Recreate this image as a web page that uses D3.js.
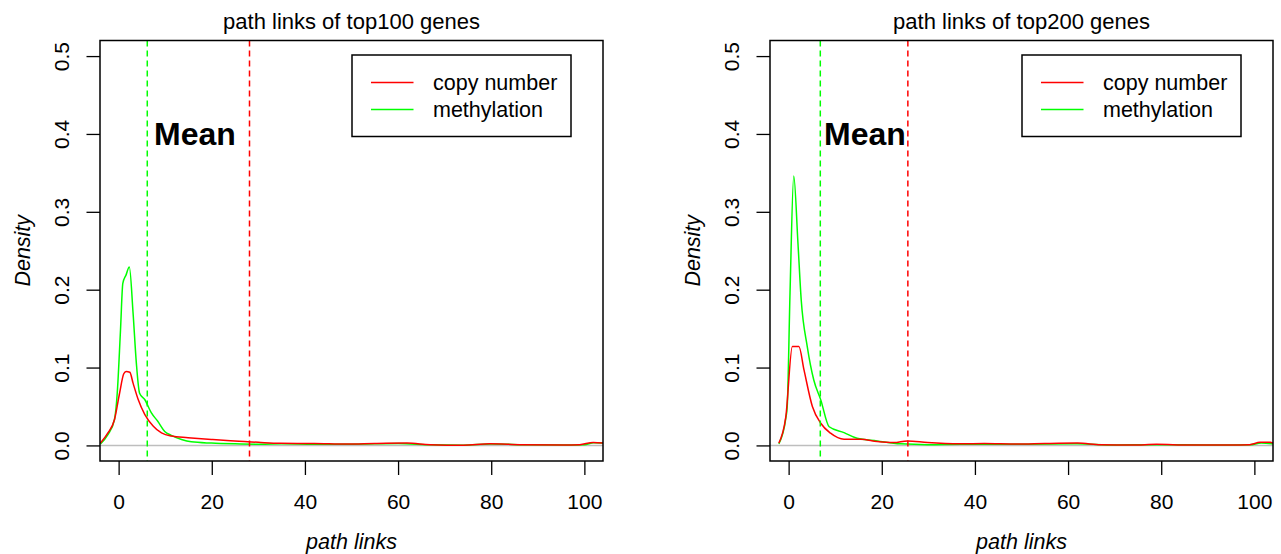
<!DOCTYPE html>
<html>
<head>
<meta charset="utf-8">
<script src="https://cdn.jsdelivr.net/npm/d3@7"></script>
<style>
  body { margin: 0; background: #fff; }
  svg { display: block; font-family: "Liberation Sans", Arial, Helvetica, sans-serif; }
  .tick text { font-size: 21px; fill: #000; }
  .tick line { stroke: #000; stroke-width: 1.3; }
</style>
</head>
<body>
<svg id="chart" width="1281" height="554"></svg>
<script>
var panelTitles = ["path links of top100 genes", "path links of top200 genes"];
var seriesNames = ["copy number", "methylation"];
var seriesColors = ["#ff0000", "#00ff00"];
var xTicks = [0, 20, 40, 60, 80, 100];
var yTicks = [0, 0.1, 0.2, 0.3, 0.4, 0.5];
var meanCopy = [28.1, 25.6];
var meanMeth = [6.15, 6.8];

// top100: copy number
var top100CopyX = [-3.9, -2.3, -0.9, 0.2, 1.1, 1.6, 2.4, 3.1, 4.2, 5.6, 7.4, 9.2, 11.3, 14.9, 19.9, 24, 27, 30, 34.7, 42, 49, 55, 61.9, 66.9, 74, 79.7, 86.2, 95.4, 99, 101.9, 104];
var top100CopyY = [0.003, 0.016, 0.033, 0.067, 0.092, 0.095, 0.094, 0.080, 0.059, 0.040, 0.025, 0.016, 0.012, 0.010, 0.0077, 0.006, 0.005, 0.004, 0.0027, 0.0025, 0.0017, 0.0025, 0.003, 0.001, 0.0003, 0.002, 0.001, 0.0005, 0.001, 0.0038, 0.003];
// top100: methylation
var top100MethX = [-3.9, -2.3, -0.9, -0.3, 0.4, 0.9, 1.6, 2.3, 3.1, 3.8, 4.5, 5.6, 7.0, 8.4, 9.9, 11.3, 13.5, 15.6, 19.9, 25, 30.5, 35, 42, 50, 60, 67, 74, 80, 88, 96, 100, 102, 104];
var top100MethY = [0.002, 0.014, 0.033, 0.067, 0.148, 0.208, 0.219, 0.229, 0.170, 0.106, 0.067, 0.059, 0.042, 0.031, 0.018, 0.013, 0.0077, 0.0047, 0.003, 0.002, 0.0015, 0.002, 0.0015, 0.0015, 0.0025, 0.0008, 0.0003, 0.0018, 0.0008, 0.0005, 0.0008, 0.0035, 0.003];
// top200: copy number
var top200CopyX = [-2.1, -0.6, 0.8, 2.2, 3.3, 5.1, 6.9, 9.0, 11.9, 15.5, 19, 22.6, 25.5, 29.8, 37, 42, 49, 55, 62, 67, 74, 79, 86, 95, 99, 101.2, 103.4, 104];
var top200CopyY = [0.003, 0.037, 0.127, 0.127, 0.097, 0.050, 0.0285, 0.0157, 0.008, 0.008, 0.005, 0.0036, 0.0058, 0.0036, 0.002, 0.0025, 0.0018, 0.0025, 0.003, 0.001, 0.0005, 0.0015, 0.0005, 0.0005, 0.001, 0.004, 0.0042, 0.003];
// top200: methylation
var top200MethX = [-2.1, -0.6, -0.3, 0.3, 1.1, 2.0, 2.7, 4.0, 5.4, 6.9, 8.7, 11.9, 14.7, 19, 24, 29.8, 37, 50, 62, 70, 80, 90, 99, 101.5, 104];
var top200MethY = [0.002, 0.035, 0.05, 0.196, 0.346, 0.26, 0.187, 0.127, 0.084, 0.0585, 0.024, 0.0165, 0.0092, 0.0058, 0.002, 0.001, 0.0015, 0.0015, 0.002, 0.0005, 0.001, 0.0005, 0.0008, 0.003, 0.002];

var copyX = [top100CopyX, top200CopyX], copyY = [top100CopyY, top200CopyY];
var methX = [top100MethX, top200MethX], methY = [top100MethY, top200MethY];

var panelLeft = [100, 770];
var plotW = 503, plotTop = 40.5, plotH = 420.5;

var svg = d3.select("#chart");

function zip(xs, ys) {
  return xs.map(function(x, i) { return [x, ys[i]]; });
}

panelTitles.forEach(function(title, p) {
  var x = d3.scaleLinear().domain([-4, 104]).range([0, plotW]);
  var y = d3.scaleLinear().domain([-0.02, 0.52]).range([plotH, 0]);

  var g = svg.append("g")
      .attr("transform", `translate(${panelLeft[p]}, ${plotTop})`);

  // baseline at zero
  g.append("line")
      .attr("x1", 0).attr("x2", plotW)
      .attr("y1", y(0)).attr("y2", y(0))
      .attr("stroke", "#bebebe").attr("stroke-width", 1.5);

  var line = d3.line()
      .x(function(d) { return x(d[0]); })
      .y(function(d) { return y(d[1]); })
      .curve(d3.curveMonotoneX);

  g.append("path")
      .attr("d", line(zip(methX[p], methY[p])))
      .attr("fill", "none").attr("stroke", seriesColors[1]).attr("stroke-width", 1.5);
  g.append("path")
      .attr("d", line(zip(copyX[p], copyY[p])))
      .attr("fill", "none").attr("stroke", seriesColors[0]).attr("stroke-width", 1.5);

  // mean lines
  [[meanCopy[p], seriesColors[0]], [meanMeth[p], seriesColors[1]]].forEach(function(m) {
    g.append("line")
        .attr("x1", x(m[0])).attr("x2", x(m[0]))
        .attr("y1", 0).attr("y2", plotH)
        .attr("stroke", m[1]).attr("stroke-width", 1.5)
        .attr("stroke-dasharray", "6,4");
  });

  g.append("text")
      .attr("x", x(16.4)).attr("y", y(0.4))
      .attr("dy", "0.36em")
      .attr("text-anchor", "middle")
      .style("font-size", "32px").style("font-weight", "bold")
      .text("Mean");

  // axes
  var xAxis = g.append("g")
      .attr("transform", `translate(0, ${plotH})`)
      .call(d3.axisBottom(x).tickValues(xTicks).tickSize(14).tickPadding(19).tickFormat(d3.format("d")));
  xAxis.select(".domain").remove();
  xAxis.selectAll("text").attr("font-family", null).attr("font-size", null);

  var yAxis = g.append("g")
      .call(d3.axisLeft(y).tickValues(yTicks).tickSize(13.5).tickFormat(d3.format(".1f")));
  yAxis.select(".domain").remove();
  yAxis.selectAll("text")
      .attr("font-family", null).attr("font-size", null)
      .attr("transform", "rotate(-90)")
      .attr("x", 0).attr("y", -31).attr("dy", 0)
      .attr("text-anchor", "middle");

  g.append("rect")
      .attr("width", plotW).attr("height", plotH)
      .attr("fill", "none").attr("stroke", "#000").attr("stroke-width", 1.5);

  g.append("text")
      .attr("x", plotW / 2).attr("y", 29 - plotTop)
      .attr("text-anchor", "middle")
      .style("font-size", "22px")
      .text(title);

  g.append("text")
      .attr("x", plotW / 2).attr("y", plotH + 88)
      .attr("text-anchor", "middle")
      .style("font-size", "21.5px").style("font-style", "italic")
      .text("path links");

  g.append("text")
      .attr("transform", `translate(-70, ${plotH / 2}) rotate(-90)`)
      .attr("text-anchor", "middle")
      .style("font-size", "21.5px").style("font-style", "italic")
      .text("Density");

  // legend
  var lg = g.append("g")
      .attr("transform", `translate(${plotW - 32 - 219}, 14.5)`);
  lg.append("rect")
      .attr("width", 219).attr("height", 81.5)
      .attr("fill", "#fff").attr("stroke", "#000").attr("stroke-width", 1.5);
  seriesNames.forEach(function(name, i) {
    var ly = 27.5 + i * 27;
    lg.append("line")
        .attr("x1", 19).attr("x2", 61.5)
        .attr("y1", ly).attr("y2", ly)
        .attr("stroke", seriesColors[i]).attr("stroke-width", 1.5);
    lg.append("text")
        .attr("x", 81).attr("y", ly + 7.5)
        .style("font-size", "21.5px")
        .text(name);
  });
});
</script>
</body>
</html>
